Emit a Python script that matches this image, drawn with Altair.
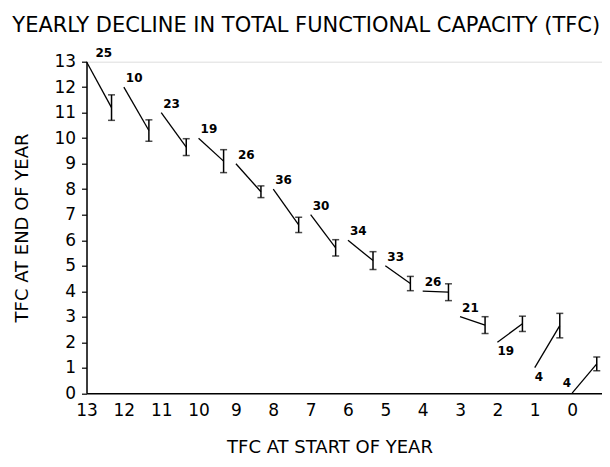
import altair as alt
import pandas as pd

# TFC at start of year (segment start: x = y = start value)
start = [13, 12, 11, 10, 9, 8, 7, 6, 5, 4, 3, 2, 1, 0]
# x position where each one-year segment ends
end_x = [12.33, 11.33, 10.33, 9.33, 8.33, 7.32, 6.33, 5.33, 4.33, 3.31, 2.33, 1.33, 0.33, -0.66]
# mean TFC at end of year
end_mean = [11.2, 10.3, 9.65, 9.1, 7.9, 6.6, 5.7, 5.2, 4.3, 3.96, 2.67, 2.72, 2.65, 1.15]
# half-width of the error bars
err = [0.5, 0.42, 0.33, 0.45, 0.23, 0.3, 0.32, 0.35, 0.28, 0.33, 0.33, 0.3, 0.48, 0.27]
# number of patients
n = [25, 10, 23, 19, 26, 36, 30, 34, 33, 26, 21, 19, 4, 4]

x_ticks = list(range(0, 14))
y_ticks = list(range(0, 14))

df = pd.DataFrame({
    "start": start,
    "start_y": start,
    "end_x": end_x,
    "end_y": end_mean,
    "lo": [m - e for m, e in zip(end_mean, err)],
    "hi": [m + e for m, e in zip(end_mean, err)],
    "n": [str(v) for v in n],
})

FONT = "DejaVu Sans"

xscale = alt.Scale(domain=[-0.8, 13], reverse=True, nice=False, zero=False)
yscale = alt.Scale(domain=[0, 13], nice=False, zero=True)

xaxis = alt.Axis(
    values=x_ticks, format="d", title="TFC AT START OF YEAR", grid=False,
    tickSize=0, labelPadding=9, labelFontSize=17, labelFont=FONT, labelColor="black",
    titleFont=FONT, titleFontSize=18, titleFontWeight="normal", titleColor="black",
    titlePadding=20, titleX=243, titleAlign="center",
    domainColor="black", domainWidth=1.5, labelFlush=False, labelOverlap=False,
)
yaxis = alt.Axis(
    values=y_ticks, format="d", title="TFC AT END OF YEAR", grid=False,
    tickSize=5, tickColor="black", tickWidth=1.2, labelPadding=6,
    labelFontSize=17, labelFont=FONT, labelColor="black",
    titleFont=FONT, titleFontSize=18, titleFontWeight="normal", titleColor="black",
    titlePadding=22, domainColor="black", domainWidth=1.5, labelOverlap=False,
    labelFlush=False,
)


def X(field):
    return alt.X(field, type="quantitative", scale=xscale, axis=xaxis)


def Y(field):
    return alt.Y(field, type="quantitative", scale=yscale, axis=yaxis)


base = alt.Chart(df)

segments = base.mark_rule(color="black", strokeWidth=1.3).encode(
    x=X("start"), y=Y("start_y"), x2="end_x:Q", y2="end_y:Q",
)

bars = base.mark_rule(color="black", strokeWidth=1.5).encode(
    x=X("end_x"), y=Y("lo"), y2="hi:Q"
)
cap_lo = base.mark_tick(color="black", orient="horizontal", size=7, thickness=1.5).encode(
    x=X("end_x"), y=Y("lo")
)
cap_hi = base.mark_tick(color="black", orient="horizontal", size=7, thickness=1.5).encode(
    x=X("end_x"), y=Y("hi")
)

lab_kw = dict(font=FONT, fontSize=12, fontWeight="bold", color="black")
labels_first = base.transform_filter("datum.start == 13").mark_text(
    align="left", baseline="bottom", dx=9, dy=-2, **lab_kw
).encode(x=X("start"), y=Y("start_y"), text="n:N")
labels_above = base.transform_filter("datum.start >= 3 && datum.start < 13").mark_text(
    align="left", baseline="bottom", dx=2, dy=-2, **lab_kw
).encode(x=X("start"), y=Y("start_y"), text="n:N")
labels_below = base.transform_filter("datum.start == 2 || datum.start == 1").mark_text(
    align="left", baseline="top", dx=0, dy=4, **lab_kw
).encode(x=X("start"), y=Y("start_y"), text="n:N")
labels_left = base.transform_filter("datum.start == 0").mark_text(
    align="right", baseline="bottom", dx=-1, dy=-3, **lab_kw
).encode(x=X("start"), y=Y("start_y"), text="n:N")

chart = alt.layer(
    segments, bars, cap_lo, cap_hi, labels_first, labels_above, labels_below, labels_left
).properties(
    width=515.5,
    height=331.5,
    autosize=alt.AutoSizeParams(type="none"),
    padding={"left": 78.5, "top": 53.7, "right": 0, "bottom": 64},
    title=alt.TitleParams(
        "YEARLY DECLINE IN TOTAL FUNCTIONAL CAPACITY (TFC)",
        font=FONT, fontSize=21, fontWeight="normal", color="black",
        anchor="middle", frame="group", dx=-38, offset=11,
    ),
).configure_view(stroke=None).configure(background="white")

chart.save("out.html", embed_options={"renderer": "svg", "actions": False})
